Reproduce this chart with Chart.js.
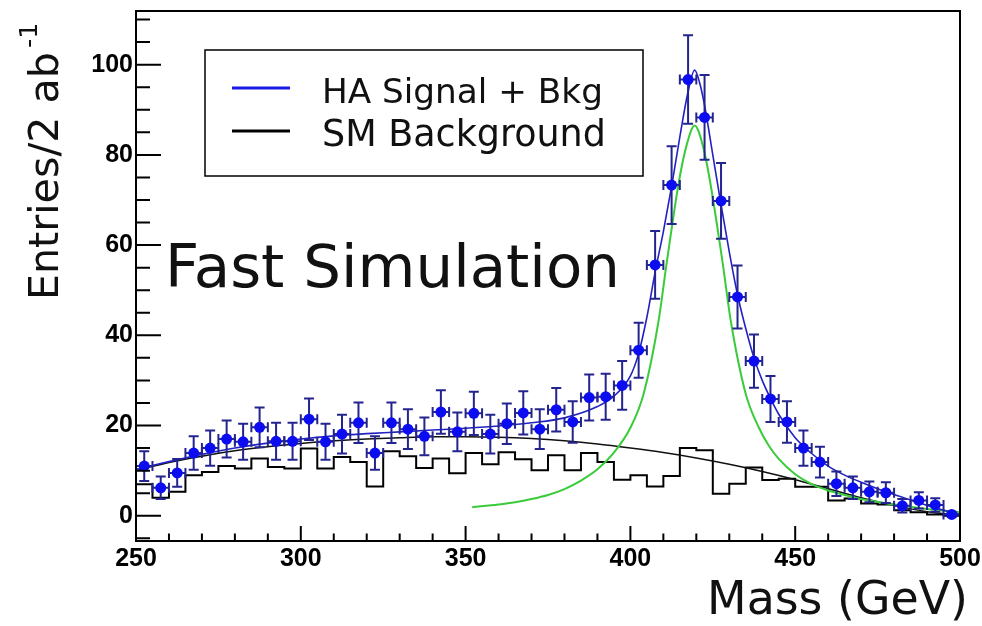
<!DOCTYPE html>
<html lang="en">
<head>
<meta charset="UTF-8">
<title>HA Signal + Bkg - Fast Simulation</title>
<script src="https://cdn.jsdelivr.net/npm/chart.js"></script>
<style>
    html, body { margin: 0; padding: 0; background: #fff; }
    .wrap { width: 982px; height: 626px; position: relative; }
</style>
</head>
<body>
<div class="wrap"><canvas id="massChart" width="982" height="626"></canvas></div>
<script>
// 5 GeV bins, centres in GeV
const binCenters = [252.5, 257.5, 262.5, 267.5, 272.5, 277.5, 282.5, 287.5, 292.5, 297.5,
    302.5, 307.5, 312.5, 317.5, 322.5, 327.5, 332.5, 337.5, 342.5, 347.5,
    352.5, 357.5, 362.5, 367.5, 372.5, 377.5, 382.5, 387.5, 392.5, 397.5,
    402.5, 407.5, 412.5, 417.5, 422.5, 427.5, 432.5, 437.5, 442.5, 447.5,
    452.5, 457.5, 462.5, 467.5, 472.5, 477.5, 482.5, 487.5, 492.5, 497.5];
const binWidth = 5;

// HA signal + background (points with error bars)
const dataEntries = [11.0, 6.2, 9.5, 13.9, 15.0, 17.0, 16.4, 19.6, 16.5, 16.5,
    21.4, 16.4, 18.1, 20.6, 13.9, 20.6, 19.2, 17.6, 23.0, 18.6,
    22.7, 18.1, 20.4, 22.8, 19.2, 23.5, 20.8, 26.2, 26.4, 28.9,
    36.7, 55.6, 73.3, 96.7, 88.3, 69.8, 48.5, 34.3, 25.9, 20.8,
    15.0, 11.9, 7.1, 6.2, 5.3, 5.1, 2.2, 3.4, 2.4, 0.3];
const dataErrors = [3.3, 2.5, 3.1, 3.7, 3.9, 4.1, 4.0, 4.4, 4.1, 4.1,
    4.6, 4.0, 4.3, 4.5, 3.7, 4.5, 4.4, 4.2, 4.8, 4.3,
    4.8, 4.3, 4.5, 4.8, 4.4, 4.8, 4.6, 5.1, 5.1, 5.4,
    6.1, 7.5, 8.6, 9.8, 9.4, 8.4, 7.0, 5.9, 5.1, 4.6,
    3.9, 3.4, 2.7, 2.5, 2.3, 2.3, 1.5, 1.8, 1.5, 0.5];

// SM background histogram, one value per bin
const smHisto = [7.0, 4.0, 5.3, 9.0, 9.7, 11.0, 10.5, 12.7, 10.8, 10.5,
    14.9, 10.5, 13.0, 11.9, 6.5, 14.3, 13.2, 10.6, 12.7, 9.4,
    13.9, 11.4, 14.1, 12.5, 10.1, 13.4, 10.1, 13.9, 11.9, 8.0,
    9.0, 6.5, 8.8, 15.0, 14.5, 4.9, 7.1, 10.7, 7.9, 8.2,
    6.4, 6.4, 3.4, 3.8, 2.7, 2.5, 1.2, 0.8, 0.3, 0.0];

// smooth background fit (black)
const bkgFitX = [250, 260, 270, 280, 290, 300, 310, 320, 330, 340, 350, 360, 370,
    380, 390, 400, 410, 420, 430, 440, 450, 460, 470, 480, 490, 500];
const bkgFitY = [10.0, 11.8, 13.2, 14.4, 15.3, 16.0, 16.6, 17.0, 17.3, 17.5, 17.5, 17.4, 17.1,
    16.6, 15.9, 15.0, 14.0, 12.8, 11.4, 9.8, 8.0, 6.0, 4.0, 2.3, 0.9, 0.1];

// signal + background fit (blue)
const totalFitX = [250, 260, 270, 280, 290, 300, 310, 320, 330, 340, 350, 360, 370, 380,
    390, 395, 400, 402.5, 405, 407.5, 410, 412.5, 415, 417.5, 419.5, 421, 422.5, 425,
    427.5, 430, 432.5, 435, 437.5, 440, 442.5, 445, 450, 455, 460, 465, 470, 475, 480,
    485, 490, 495, 500];
const totalFitY = [10.3, 12.0, 13.6, 15.0, 16.1, 17.0, 17.7, 18.2, 18.6, 19.0, 19.4, 19.9, 20.6, 21.7,
    24.2, 26.5, 31.0, 36.0, 44.0, 54.0, 63.0, 73.0, 84.0, 94.0, 98.8, 96.0, 91.0, 80.0,
    69.0, 58.5, 49.0, 41.5, 35.0, 30.0, 26.0, 22.5, 17.3, 13.8, 11.0, 9.0, 7.4, 6.0, 4.7,
    3.5, 2.3, 1.2, 0.3];

// signal only (green)
const signalFitX = [352, 360, 365, 370, 375, 380, 385, 390, 395, 400, 404, 408.5, 411, 414.7, 417, 419.5,
    422, 424.2, 428, 430.5, 435, 439, 442, 445, 450, 455, 460, 465, 470, 480, 490, 500];
const signalFitY = [1.9, 2.5, 3.0, 3.7, 4.6, 5.9, 7.8, 10.3, 14.0, 19.5, 27.0, 43.0, 56.0, 74.0, 82.0, 86.5,
    82.0, 74.0, 56.0, 43.0, 27.0, 19.5, 15.5, 12.6, 9.2, 7.0, 5.6, 4.6, 3.7, 2.5, 1.5, 0.8];

const xTickLabels = [250, 300, 350, 400, 450, 500];
const yTickLabels = [0, 20, 40, 60, 80, 100];

const legendItems = ['HA Signal + Bkg', 'SM Background'];
const legendColors = ['#1a1ae6', '#000000'];

const pts = (xs, ys) => xs.map((x, i) => ({ x: x, y: ys[i] }));

// histogram as step line over the bin edges
const histoPts = binCenters.map((c, i) => ({ x: c - binWidth / 2, y: smHisto[i] }));
histoPts.push({ x: binCenters[binCenters.length - 1] + binWidth / 2, y: smHisto[smHisto.length - 1] });

const TEXT_FONT = '"DejaVu Sans", "Liberation Sans", sans-serif';
const TICK_FONT = 'bold 25px "Liberation Sans", Arial, sans-serif';

function fitText(ctx, text, x, y, width) {
    ctx.font = '100px ' + TEXT_FONT;
    const w = ctx.measureText(text).width;
    const size = 100 * width / w;
    ctx.font = size + 'px ' + TEXT_FONT;
    ctx.fillText(text, x, y);
    return size;
}

// error bars drawn under the markers
const errorBars = {
    id: 'errorBars',
    beforeDatasetDraw(chart, args) {
        if (args.index !== 4) return;
        const { ctx, scales: { x, y } } = chart;
        ctx.save();
        ctx.strokeStyle = '#24248f';
        ctx.lineWidth = 2;
        binCenters.forEach((c, i) => {
            const px = x.getPixelForValue(c);
            const py = y.getPixelForValue(dataEntries[i]);
            const yTop = y.getPixelForValue(dataEntries[i] + dataErrors[i]);
            const yBot = y.getPixelForValue(dataEntries[i] - dataErrors[i]);
            const xl = x.getPixelForValue(c - binWidth / 2);
            const xr = x.getPixelForValue(c + binWidth / 2);
            ctx.beginPath();
            ctx.moveTo(px, yTop); ctx.lineTo(px, yBot);
            ctx.moveTo(px - 5, yTop); ctx.lineTo(px + 5, yTop);
            ctx.moveTo(px - 5, yBot); ctx.lineTo(px + 5, yBot);
            ctx.moveTo(xl, py); ctx.lineTo(xr, py);
            ctx.moveTo(xl, py - 5); ctx.lineTo(xl, py + 5);
            ctx.moveTo(xr, py - 5); ctx.lineTo(xr, py + 5);
            ctx.stroke();
        });
        ctx.restore();
    }
};

// ROOT style frame, ticks, labels, legend and titles
const rootFrame = {
    id: 'rootFrame',
    afterDraw(chart) {
        const { ctx, chartArea: a, scales: { x, y } } = chart;
        ctx.save();
        ctx.strokeStyle = '#000';
        ctx.lineWidth = 2;
        ctx.strokeRect(a.left, a.top, a.right - a.left, a.bottom - a.top);

        ctx.beginPath();
        for (let v = 250; v <= 500; v += 10) {
            const px = x.getPixelForValue(v);
            const len = (v % 50 === 0) ? 15 : 7.5;
            ctx.moveTo(px, a.bottom); ctx.lineTo(px, a.bottom - len);
        }
        for (let v = -5; v <= 110; v += 5) {
            const py = y.getPixelForValue(v);
            const len = (v % 20 === 0) ? 25 : 14;
            ctx.moveTo(a.left, py); ctx.lineTo(a.left + len, py);
        }
        ctx.stroke();

        ctx.fillStyle = '#000';
        ctx.font = TICK_FONT;
        ctx.textAlign = 'center';
        ctx.textBaseline = 'top';
        xTickLabels.forEach(v => ctx.fillText(String(v), x.getPixelForValue(v), a.bottom + 6));
        ctx.textAlign = 'right';
        ctx.textBaseline = 'middle';
        yTickLabels.forEach(v => ctx.fillText(String(v), a.left - 3, y.getPixelForValue(v)));

        // legend
        ctx.lineWidth = 1.5;
        ctx.strokeRect(205, 50, 438, 126);
        ctx.lineWidth = 3;
        [88, 131].forEach((ly, i) => {
            ctx.strokeStyle = legendColors[i];
            ctx.beginPath(); ctx.moveTo(232, ly); ctx.lineTo(290, ly); ctx.stroke();
        });
        ctx.fillStyle = '#111';
        ctx.textAlign = 'left';
        ctx.textBaseline = 'alphabetic';
        fitText(ctx, legendItems[0], 322, 103, 281);
        fitText(ctx, legendItems[1], 322, 146, 284);

        fitText(ctx, 'Fast Simulation', 165, 287, 455);
        ctx.textAlign = 'right';
        fitText(ctx, 'Mass (GeV)', 968, 614, 261);

        // y title, rotated
        ctx.save();
        ctx.translate(58, 300);
        ctx.rotate(-Math.PI / 2);
        ctx.textAlign = 'left';
        const s = fitText(ctx, 'Entries/2 ab', 0, 0, 248);
        ctx.font = (s * 0.62) + 'px ' + TEXT_FONT;
        ctx.fillText('-1', 252, -s * 0.5);
        ctx.restore();
        ctx.restore();
    }
};

const ctx = document.getElementById('massChart').getContext('2d');
new Chart(ctx, {
    type: 'line',
    data: {
        datasets: [
            {
                label: 'SM Background', data: histoPts, stepped: 'before',
                borderColor: '#000', borderWidth: 2, pointRadius: 0, order: 5
            },
            {
                label: 'Bkg fit', data: pts(bkgFitX, bkgFitY), cubicInterpolationMode: 'monotone',
                borderColor: '#111', borderWidth: 1.5, pointRadius: 0, order: 4
            },
            {
                label: 'Signal', data: pts(signalFitX, signalFitY), cubicInterpolationMode: 'monotone',
                borderColor: '#3acb3a', borderWidth: 2, pointRadius: 0, order: 3
            },
            {
                label: 'HA Signal + Bkg', data: pts(totalFitX, totalFitY), cubicInterpolationMode: 'monotone',
                borderColor: '#2222c4', borderWidth: 1.6, pointRadius: 0, order: 2
            },
            {
                label: 'Data', data: pts(binCenters, dataEntries), showLine: false,
                pointRadius: 5.5, pointBackgroundColor: '#0c0cf0', pointBorderWidth: 0, order: 1
            }
        ]
    },
    options: {
        responsive: false,
        animation: false,
        devicePixelRatio: 1,
        layout: { padding: { left: 136, right: 22, top: 11, bottom: 85 } },
        plugins: { legend: { display: false }, tooltip: { enabled: false } },
        scales: {
            x: { type: 'linear', min: 250, max: 500, display: false },
            y: { type: 'linear', min: -5.6, max: 111.9, display: false }
        }
    },
    plugins: [errorBars, rootFrame]
});
</script>
</body>
</html>
